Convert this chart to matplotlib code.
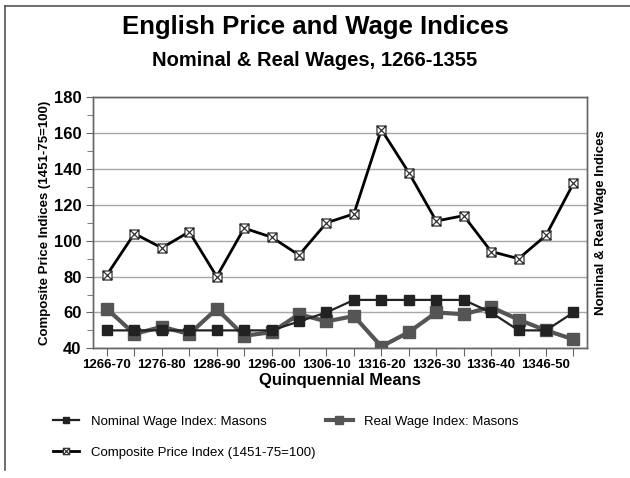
import matplotlib
matplotlib.use("Agg")
import matplotlib.pyplot as plt
from matplotlib.path import Path
from matplotlib.lines import Line2D
from matplotlib.ticker import MultipleLocator

plt.rcParams["font.family"] = ["Liberation Sans", "DejaVu Sans"]

# quinquennia 1266-70 .. 1351-55
periods = ["1266-70", "1271-75", "1276-80", "1281-85", "1286-90", "1291-95",
           "1296-00", "1301-05", "1306-10", "1311-15", "1316-20", "1321-25",
           "1326-30", "1331-35", "1336-40", "1341-45", "1346-50", "1351-55"]

composite_price = [81, 104, 96, 105, 80, 107, 102, 92, 110, 115, 162, 138,
                   111, 114, 94, 90, 103, 132]
nominal_wage = [50, 50, 50, 50, 50, 50, 50, 55, 60, 67, 67, 67,
                67, 67, 60, 50, 50, 60]
real_wage = [62, 48, 52, 48, 62, 47, 49, 59, 55, 58, 41, 49,
             60, 59, 63, 56, 50, 45]

# square with an X inside, like the original marker
box_x = Path(
    [(-1, -1), (1, -1), (1, 1), (-1, 1), (-1, -1), (-1, -1), (1, 1), (-1, 1), (1, -1)],
    [Path.MOVETO, Path.LINETO, Path.LINETO, Path.LINETO, Path.CLOSEPOLY,
     Path.MOVETO, Path.LINETO, Path.MOVETO, Path.LINETO],
)

fig = plt.figure(figsize=(6.3, 4.78), dpi=100)
ax = fig.add_axes([0.148, 0.2713, 0.784, 0.5251])

x = list(range(len(periods)))

ax.plot(x, composite_price, color="black", lw=2.0, marker=box_x, markersize=6.5,
        markerfacecolor="white", markeredgecolor="#333333", markeredgewidth=0.9,
        zorder=4, label="Composite Price Index (1451-75=100)")

ax2 = ax.twinx()
ax2.plot(x, nominal_wage, color="#222222", lw=1.6, marker="s", markersize=7,
         zorder=3, label="Nominal Wage Index: Masons")
ax2.plot(x, real_wage, color="#555555", lw=3.0, marker="s", markersize=8.5,
         zorder=2, label="Real Wage Index: Masons")

for a in (ax, ax2):
    a.set_ylim(40, 180)
    a.set_xlim(-0.5, len(periods) - 0.5)
    for s in a.spines.values():
        s.set_color("#666666")
        s.set_linewidth(1.0)

ax.yaxis.set_major_locator(MultipleLocator(20))
ax.yaxis.set_minor_locator(MultipleLocator(10))
ax.grid(axis="y", which="major", color="#a8a8a8", lw=1.0)
ax.set_axisbelow(True)
ax.tick_params(axis="y", which="major", length=5, color="#666666", labelsize=12)
ax.tick_params(axis="y", which="minor", length=4, color="#666666")
for t in ax.get_yticklabels():
    t.set_fontweight("bold")

ax.set_xticks(x)
ax.set_xticklabels([p if i % 2 == 0 else "" for i, p in enumerate(periods)],
                   fontsize=9.5, fontweight="bold")
ax.tick_params(axis="x", length=6, color="#666666", pad=2)

ax2.set_yticks([])
ax2.set_ylabel("Nominal & Real Wage Indices", fontsize=9.5, fontweight="bold", labelpad=6)

ax.set_ylabel("Composite Price Indices (1451-75=100)", fontsize=9.5,
              fontweight="bold", labelpad=2)
ax.set_xlabel("Quinquennial Means", fontsize=12, fontweight="bold", labelpad=1)

fig.text(0.5, 0.943, "English Price and Wage Indices", ha="center", va="center",
         fontsize=18.5, fontweight="bold")
fig.text(0.5, 0.874, "Nominal & Real Wages, 1266-1355", ha="center", va="center",
         fontsize=14.5, fontweight="bold")

h1, l1 = ax.get_legend_handles_labels()
h2, l2 = ax2.get_legend_handles_labels()
handles = [h2[0], h1[0], h2[1]]
labels = [l2[0], l1[0], l2[1]]
fig.legend(handles, labels, loc="upper left", bbox_to_anchor=(0.065, 0.155),
           ncol=2, frameon=False, fontsize=9.5, handlelength=2.0, handletextpad=0.9,
           columnspacing=0.8, labelspacing=1.4, markerscale=0.7)

# partial outer frame (top and left edges)
fig.add_artist(Line2D([5 / 630, 1.0], [1 - 6 / 478, 1 - 6 / 478],
                      transform=fig.transFigure, color="#555555", lw=1.2))
fig.add_artist(Line2D([5 / 630, 5 / 630], [1 - 6 / 478, 1 - 470 / 478],
                      transform=fig.transFigure, color="#555555", lw=1.2))

fig.savefig("out.png", dpi=100)
